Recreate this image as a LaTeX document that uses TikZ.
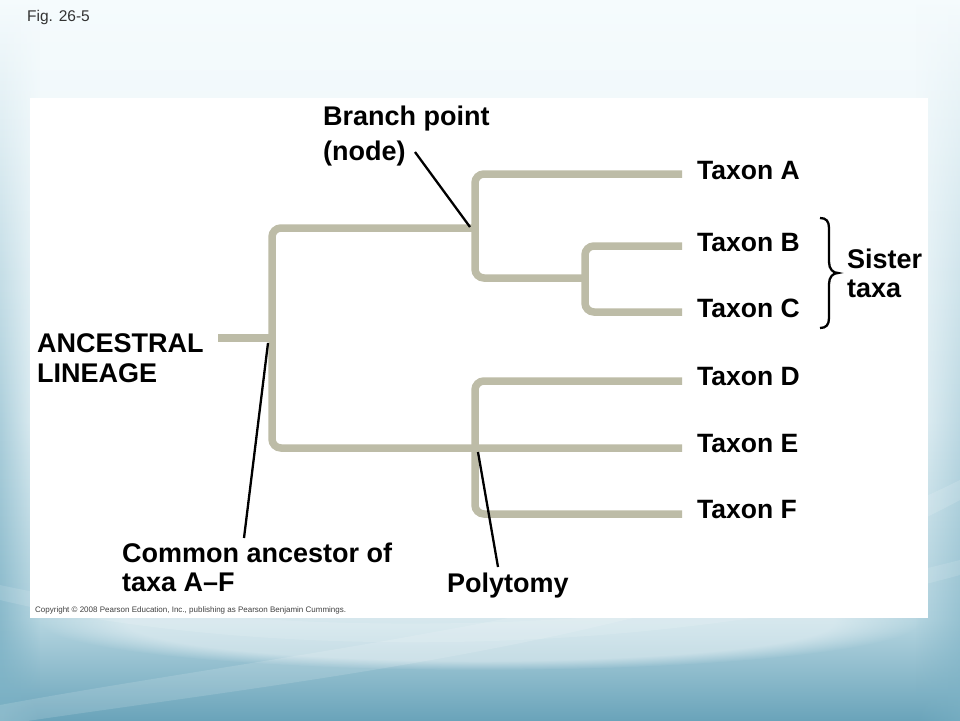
\documentclass[tikz,border=0pt]{standalone}
\usepackage{fontspec}
\setmainfont{Liberation Sans}
\usetikzlibrary{fadings}
\tikzfading[name=fadeR, left color=transparent!0, right color=transparent!100]
\tikzfading[name=fadeL, left color=transparent!100, right color=transparent!0]
\begin{document}
\begin{tikzpicture}[x=1pt,y=-1pt,
  treeline/.style={draw=treecol,line width=7.5pt,rounded corners=9pt,line cap=butt},
  pointer/.style={draw=black,line width=2.3pt},
  lab/.style={font=\bfseries\fontsize{27}{30}\selectfont,inner sep=0pt,anchor=base west},
  taxlab/.style={font=\bfseries\fontsize{26.5}{30}\selectfont,inner sep=0pt,anchor=base west}]
\definecolor{treecol}{HTML}{BDBCA7}
\definecolor{bgA}{HTML}{F5FBFD}
\definecolor{bgB}{HTML}{E6F2F6}
\definecolor{bgC}{HTML}{B5D5E0}
\definecolor{bgD}{HTML}{6AA4BA}
\definecolor{edgeA}{HTML}{E2F0F5}
\definecolor{edgeB}{HTML}{78AFC3}
\useasboundingbox (0,0) rectangle (960,720);
% background
\shade[top color=bgA,bottom color=bgB] (0,0) rectangle (960,421);
\shade[top color=bgB,bottom color=bgC] (0,420) rectangle (960,621);
\shade[top color=bgC,bottom color=bgD] (0,620) rectangle (960,720);
\shade[top color=bgA,middle color=edgeA,bottom color=edgeB,path fading=fadeR] (0,0) rectangle (40,720);
\shade[top color=bgA,middle color=edgeA,bottom color=edgeB,path fading=fadeL,opacity=0.7] (915,0) rectangle (960,720);
\fill[white,opacity=0.45,path fading=circle with fuzzy edge 20 percent] (480,622) ellipse [x radius=440,y radius=48];
\fill[white,opacity=0.14] (0,705) .. controls (300,650) and (700,610) .. (960,480) -- (960,500) .. controls (700,640) and (300,680) .. (0,725) -- cycle;
\fill[white,opacity=0.12] (0,585) .. controls (250,640) and (650,640) .. (960,560) -- (960,575) .. controls (650,660) and (250,660) .. (0,600) -- cycle;
\node[font=\fontsize{15.5}{18}\selectfont,text=black!80,inner sep=0pt,anchor=base west] (fig) at (27,21) {Fig. 26-5};
% white panel
\fill[white] (30,98) rectangle (928,618);
% tree coordinates
\coordinate (r0) at (218,338);
\coordinate (r1) at (272,338);
\coordinate (nAB) at (475,228);
\coordinate (nBC) at (585,278);
\coordinate (nDF) at (475,448);
\coordinate (eA) at (682,174);
\coordinate (eB) at (682,246);
\coordinate (eC) at (682,312);
\coordinate (eD) at (682,381);
\coordinate (eE) at (682,448);
\coordinate (eF) at (682,514);
% tree
\draw[treeline] (r0) -- (r1);
\draw[treeline] (nAB) -- (272,228) -- (272,448) -- (eE);
\draw[treeline] (eA) -- (475,174) -- (475,278) -- (nBC);
\draw[treeline] (eB) -- (585,246) -- (585,312) -- (eC);
\draw[treeline] (eD) -- (475,381) -- (475,514) -- (eF);
% taxon labels
\node[taxlab] (tA) at (697,179) {Taxon A};
\node[taxlab] (tB) at (697,251) {Taxon B};
\node[taxlab] (tC) at (697,317) {Taxon C};
\node[taxlab] (tD) at (697,385) {Taxon D};
\node[taxlab] (tE) at (697,452) {Taxon E};
\node[taxlab] (tF) at (697,518) {Taxon F};
% sister taxa
\coordinate (brT) at (820,218);
\coordinate (brTip) at (838,273);
\coordinate (brB) at (820,328);
\draw[line width=2.3pt] (brT) .. controls (826,218) and (829,221) .. (829,228) -- (829,262)
  .. controls (829,269) and (833,273) .. (brTip) .. controls (833,273) and (829,277) .. (829,284)
  -- (829,318) .. controls (829,325) and (826,328) .. (brB);
\node[lab] (sis1) at (847,268) {Sister};
\node[lab] (sis2) at (847,297) {taxa};
% other labels
\node[lab] (bp1) at (323,125) {Branch point};
\node[lab] (bp2) at (323,160) {(node)};
\node[lab] (anc1) at (37,352) {ANCESTRAL};
\node[lab] (anc2) at (37,382) {LINEAGE};
\node[lab] (ca1) at (122,562) {Common ancestor of};
\node[lab] (ca2) at (122,591) {taxa A–F};
\node[lab] (poly) at (447,592) {Polytomy};
% pointers
\coordinate (pbS) at (415,152);
\coordinate (pbE) at (470,227);
\coordinate (pcS) at (268,343);
\coordinate (pcE) at (244,538);
\coordinate (ppS) at (478,452);
\coordinate (ppE) at (498,567);
\draw[pointer] (pbS) -- (pbE);
\draw[pointer] (pcS) -- (pcE);
\draw[pointer] (ppS) -- (ppE);
\node[font=\fontsize{8}{10}\selectfont,text=black!75,inner sep=0pt,anchor=base west] (copy) at (35,612) {Copyright © 2008 Pearson Education, Inc., publishing as Pearson Benjamin Cummings.};
\end{tikzpicture}
\end{document}
